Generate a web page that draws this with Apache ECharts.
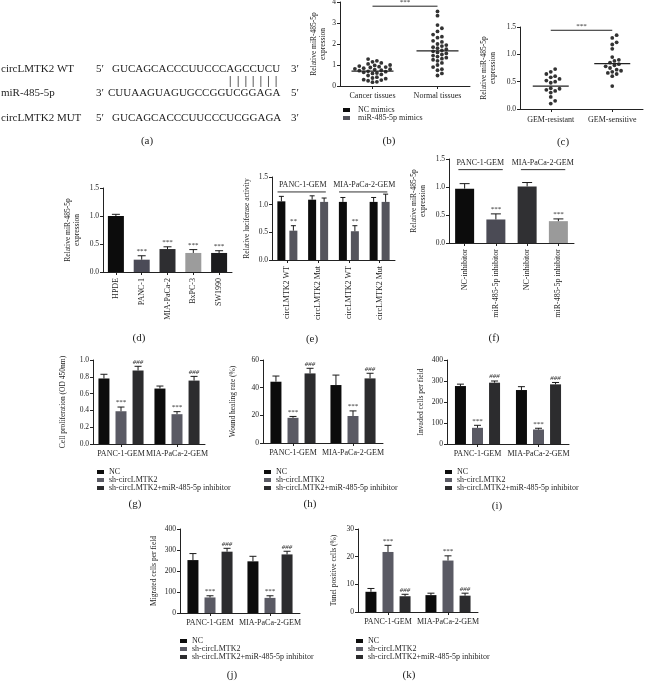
<!DOCTYPE html>
<html><head><meta charset="utf-8">
<script src="https://cdn.jsdelivr.net/npm/echarts@6/dist/echarts.min.js"></script>
<style>html,body{margin:0;padding:0;background:#fff}#c{width:646px;height:683px}</style>
</head><body><div id="c"></div>
<script>
const FONT = '"Liberation Serif","DejaVu Serif",serif';
const TXT = '#1e1e1e';

// ---------- (a) sequences ----------
const seqLabels = ['circLMTK2 WT', 'miR-485-5p', 'circLMTK2 MUT'];
const seqLeftEnds = ['5\u2032', '3\u2032', '5\u2032'];
const seqs = ['GUCAGCACCCUUCCCAGCCUCU', 'CUUAAGUAGUGCCGGUCGGAGA', 'GUCAGCACCCUUCCCUCGGAGA'];
const seqRightEnds = ['3\u2032', '5\u2032', '3\u2032'];
const pairedFrom = 15, pairedTo = 21; // paired bases in WT (indices)

// ---------- (b) ----------
const catsB = ['Cancer tissues', 'Normal tissues'];
const cancerVals = [1.28,1.2,1.15,1.1,1.05,1.0,0.98,0.95,0.92,0.9,0.88,0.85,0.82,0.8,0.78,0.75,0.73,0.7,0.68,0.65,0.62,0.6,0.55,0.5,0.42,0.38,0.35,0.3,0.28,0.25,0.2,0.18];
const normalVals = [3.55,3.35,2.9,2.75,2.6,2.45,2.35,2.3,2.15,2.1,2.0,1.95,1.9,1.85,1.8,1.75,1.7,1.65,1.6,1.55,1.5,1.45,1.4,1.35,1.3,1.25,1.2,1.1,1.0,0.9,0.8,0.75,0.6,0.5];
const meanB = [0.71, 1.67];
const sigB = 3.8;
const legendB = ['NC mimics', 'miR-485-5p mimics'];

// ---------- (c) ----------
const catsC = ['GEM-resistant', 'GEM-sensitive'];
const resistantVals = [0.73,0.68,0.64,0.6,0.58,0.55,0.52,0.5,0.48,0.38,0.37,0.35,0.33,0.3,0.22,0.15,0.1];
const sensitiveVals = [1.35,1.3,1.22,1.18,1.1,0.95,0.9,0.88,0.85,0.82,0.8,0.78,0.75,0.72,0.7,0.68,0.66,0.64,0.6,0.42];
const meanC = [0.42, 0.83];
const sigC = 1.44;

// ---------- (d) ----------
const catsD = ['HPDE', 'PANC-1', 'MIA-PaCa-2', 'BxPC-3', 'SW1990'];
const valsD = [1.0, 0.22, 0.41, 0.34, 0.34];
const errD = [1.03, 0.29, 0.45, 0.40, 0.38];
const marksD = ['', '***', '***', '***', '***'];

// ---------- (e) ----------
const catsE = ['circLMTK2 WT', 'circLMTK2 Mut', 'circLMTK2 WT', 'circLMTK2 Mut'];
const ncMimicsE = [1.06, 1.09, 1.05, 1.05];
const ncMimicsErrE = [1.15, 1.16, 1.13, 1.13];
const mimicsE = [0.53, 1.05, 0.52, 1.05];
const mimicsErrE = [0.62, 1.12, 0.62, 1.19];
const marksE = ['**', '', '**', ''];
const groupsE = ['PANC-1-GEM', 'MIA-PaCa-2-GEM'];

// ---------- (f) ----------
const catsF = ['NC-inhibitor', 'miR-485-5p inhibitor', 'NC-inhibitor', 'miR-485-5p inhibitor'];
const valsF = [0.97, 0.42, 1.01, 0.39];
const errF = [1.06, 0.52, 1.08, 0.43];
const marksF = ['', '***', '', '***'];

// ---------- (g)-(k) ----------
const groupCats = ['PANC-1-GEM', 'MIA-PaCa-2-GEM'];
const legendNames = ['NC', 'sh-circLMTK2', 'sh-circLMTK2+miR-485-5p inhibitor'];
const groupMarks = ['', '***', '###'];
// (g) cell proliferation
const gNC = [0.78, 0.66], gNCErr = [0.83, 0.69];
const gSh = [0.39, 0.355], gShErr = [0.44, 0.385];
const gInh = [0.875, 0.755], gInhErr = [0.925, 0.805];
// (h) wound healing
const hNC = [44.3, 41.9], hNCErr = [48.4, 49.1];
const hSh = [18.2, 19.5], hShErr = [19.2, 23.2];
const hInh = [50.3, 46.7], hInhErr = [54.0, 50.4];
// (i) invaded
const iNC = [276, 257], iNCErr = [285, 273];
const iSh = [77, 69], iShErr = [89, 75];
const iInh = [292, 284], iInhErr = [300, 293];
// (j) migrated
const jNC = [252, 246], jNCErr = [283, 270];
const jSh = [74, 72], jShErr = [82, 82];
const jInh = [292, 279], jInhErr = [308, 294];
// (k) tunel
const kNC = [7.3, 6.1], kNCErr = [8.5, 6.8];
const kSh = [21.7, 18.6], kShErr = [24.1, 20.3];
const kInh = [5.7, 5.9], kInhErr = [6.4, 6.8];

// ---------- styles ----------
const groupColors = ['#0c0c0c', '#5a5a64', '#2c2c2e'];
const colorsD = ['#0c0c0c', '#4b4b57', '#2e2e31', '#9c9c9c', '#1c1c1e'];
const colorsE = ['#0c0c0c', '#55555d'];
const colorsF = ['#0c0c0c', '#4b4b55', '#303033', '#9a9a9a'];

const grids = [], xAxes = [], yAxes = [], series = [], legends = [], graphics = [];

function fmt1(v) { return v.toFixed(1); }
function fmt0(v) { return String(Math.round(v)); }

function addPanel(c) {
  const i = grids.length;
  grids.push({ left: c.left, top: c.top, width: c.width, height: c.height, containLabel: false, outerBoundsMode: 'none' });
  xAxes.push({
    type: 'category', gridIndex: i, data: c.cats, boundaryGap: true,
    axisLine: { show: true, onZero: false, lineStyle: { color: '#222', width: 1 } },
    axisTick: { show: true, alignWithLabel: true, length: 3, lineStyle: { color: '#222' } },
    axisLabel: { fontFamily: FONT, fontSize: 8, color: TXT, margin: c.xMargin || 5, rotate: c.rotate || 0, interval: 0, hideOverlap: false },
    splitLine: { show: false }
  });
  yAxes.push({
    type: 'value', gridIndex: i, min: 0, max: c.max, interval: c.interval,
    name: c.yName, nameLocation: 'middle', nameRotate: 90, nameGap: c.nameGap,
    nameTextStyle: { fontFamily: FONT, fontSize: 7.5, color: TXT, lineHeight: 9 },
    axisLine: { show: true, lineStyle: { color: '#222', width: 1 } },
    axisTick: { show: true, length: 3, lineStyle: { color: '#222' } },
    axisLabel: { fontFamily: FONT, fontSize: 7.5, color: TXT, margin: 4, formatter: c.fmt, showMinLabel: true, showMaxLabel: true },
    splitLine: { show: false }
  });
  return i;
}

function errorSeries(i, items, nS, barW, gap, cap) {
  series.push({
    type: 'custom', xAxisIndex: i, yAxisIndex: i, silent: true, z: 5,
    data: items.map(d => [d.cat, d.v, d.e, d.s]),
    renderItem: function (params, api) {
      const d = items[params.dataIndex];
      const p = api.coord([api.value(0), api.value(1)]);
      const q = api.coord([api.value(0), api.value(2)]);
      const x = p[0] + (api.value(3) - (nS - 1) / 2) * (barW + gap);
      const ch = [
        { type: 'line', shape: { x1: x, y1: p[1], x2: x, y2: q[1] }, style: { stroke: '#1a1a1a', lineWidth: 1 } },
        { type: 'line', shape: { x1: x - cap / 2, y1: q[1], x2: x + cap / 2, y2: q[1] }, style: { stroke: '#1a1a1a', lineWidth: 1 } }
      ];
      if (d.mark) ch.push({ type: 'text', style: { text: d.mark, x: x, y: q[1] - 1, align: 'center', verticalAlign: 'bottom', fill: TXT, font: (d.mark[0] === '#' ? 'italic ' : '') + '7px ' + FONT } });
      return { type: 'group', children: ch };
    }
  });
}

function swarm(vals, ppu, d) {
  const order = vals.map((v, i) => i).sort((a, b) => vals[a] - vals[b]);
  const pts = [], off = new Array(vals.length).fill(0);
  for (const i of order) {
    const y = vals[i] * ppu;
    let chosen = 0;
    for (let k = 0; k < 80; k++) {
      const m = Math.ceil(k / 2);
      const dx = (k % 2 === 1 ? m : -m) * d * 0.55;
      let ok = true;
      for (const p of pts) { if ((p[0] - dx) ** 2 + (p[1] - y) ** 2 < d * d) { ok = false; break; } }
      if (ok) { chosen = dx; break; }
    }
    pts.push([chosen, y]); off[i] = chosen;
  }
  return off;
}

function scatterPanel(i, groups, ppu, means, halfW, sig) {
  groups.forEach((vals, c) => {
    const off = swarm(vals, ppu, 4.0);
    series.push({
      type: 'scatter', xAxisIndex: i, yAxisIndex: i, silent: true, symbol: 'circle', symbolSize: 3.8,
      itemStyle: { color: '#000' },
      data: vals.map((v, k) => ({ value: [c, v], symbolOffset: [off[k], 0] }))
    });
  });
  series.push({
    type: 'custom', xAxisIndex: i, yAxisIndex: i, silent: true, z: 4,
    data: means.map((m, c) => [c, m]),
    renderItem: function (params, api) {
      const p = api.coord([api.value(0), api.value(1)]);
      return { type: 'line', shape: { x1: p[0] - halfW, y1: p[1], x2: p[0] + halfW, y2: p[1] }, style: { stroke: '#222', lineWidth: 1.3 } };
    }
  });
  series.push({
    type: 'custom', xAxisIndex: i, yAxisIndex: i, silent: true, z: 4,
    data: [[0, sig]],
    renderItem: function (params, api) {
      const a = api.coord([0, api.value(1)]), b = api.coord([1, api.value(1)]);
      return { type: 'group', children: [
        { type: 'line', shape: { x1: a[0], y1: a[1], x2: b[0], y2: b[1] }, style: { stroke: '#222', lineWidth: 1 } },
        { type: 'text', style: { text: '***', x: (a[0] + b[0]) / 2, y: a[1] - 1, align: 'center', verticalAlign: 'bottom', fill: TXT, font: '7px ' + FONT } }
      ] };
    }
  });
}

function groupLabelSeries(i, labels, level, ext) {
  series.push({
    type: 'custom', xAxisIndex: i, yAxisIndex: i, silent: true, z: 4,
    data: labels.map((l, g) => [g * 2, level]),
    renderItem: function (params, api) {
      const g = params.dataIndex;
      const a = api.coord([g * 2, api.value(1)]), b = api.coord([g * 2 + 1, api.value(1)]);
      const w = api.size([1, 0])[0];
      return { type: 'group', children: [
        { type: 'line', shape: { x1: a[0] - w * ext[0], y1: a[1], x2: b[0] + w * ext[1], y2: a[1] }, style: { stroke: '#333', lineWidth: 1 } },
        { type: 'text', style: { text: labels[g], x: (a[0] + b[0]) / 2, y: a[1] - 3, align: 'center', verticalAlign: 'bottom', fill: TXT, font: '8px ' + FONT } }
      ] };
    }
  });
}

// ----- (b) -----
const iB = addPanel({ left: 340, top: 2, width: 130, height: 84, cats: catsB, max: 4, interval: 1, fmt: fmt0, yName: 'Relative miR-485-5p\nexpression', nameGap: 12, xMargin: 6 });
scatterPanel(iB, [cancerVals, normalVals], 84 / 4, meanB, 21, sigB);

// ----- (c) -----
const iC = addPanel({ left: 520, top: 27, width: 123, height: 82, cats: catsC, max: 1.5, interval: 0.5, fmt: fmt1, yName: 'Relative miR-485-5p\nexpression', nameGap: 22, xMargin: 7 });
scatterPanel(iC, [resistantVals, sensitiveVals], 82 / 1.5, meanC, 18, sigC);

// ----- (d) -----
const iD = addPanel({ left: 103, top: 188, width: 129, height: 84, cats: catsD, max: 1.5, interval: 0.5, fmt: fmt1, yName: 'Relative miR-485-5p\nexpression', nameGap: 21, rotate: 90, xMargin: 6 });
series.push({ type: 'bar', xAxisIndex: iD, yAxisIndex: iD, silent: true, barWidth: 16,
  data: valsD.map((v, k) => ({ value: v, itemStyle: { color: colorsD[k] } })) });
errorSeries(iD, valsD.map((v, k) => ({ cat: k, v: v, e: errD[k], s: 0, mark: marksD[k] })), 1, 16, 0, 8);

// ----- (e) -----
const iE = addPanel({ left: 272, top: 177, width: 123, height: 83, cats: catsE, max: 1.5, interval: 0.5, fmt: fmt1, yName: 'Relative luciferase activity', nameGap: 20, rotate: 90, xMargin: 6 });
series.push({ type: 'bar', name: legendB[0], xAxisIndex: iE, yAxisIndex: iE, silent: true, barWidth: 8, barGap: '50%', itemStyle: { color: colorsE[0] }, data: ncMimicsE });
series.push({ type: 'bar', name: legendB[1], xAxisIndex: iE, yAxisIndex: iE, silent: true, barWidth: 8, barGap: '50%', itemStyle: { color: colorsE[1] }, data: mimicsE });
errorSeries(iE, ncMimicsE.map((v, k) => ({ cat: k, v: v, e: ncMimicsErrE[k], s: 0, mark: '' }))
  .concat(mimicsE.map((v, k) => ({ cat: k, v: v, e: mimicsErrE[k], s: 1, mark: marksE[k] }))), 2, 8, 4, 5);
groupLabelSeries(iE, groupsE, 1.23, [0.32, 0.25]);

// ----- (f) -----
const iF = addPanel({ left: 449, top: 159, width: 125, height: 84, cats: catsF, max: 1.5, interval: 0.5, fmt: fmt1, yName: 'Relative miR-485-5p\nexpression', nameGap: 21, rotate: 90, xMargin: 6 });
series.push({ type: 'bar', xAxisIndex: iF, yAxisIndex: iF, silent: true, barWidth: 19,
  data: valsF.map((v, k) => ({ value: v, itemStyle: { color: colorsF[k] } })) });
errorSeries(iF, valsF.map((v, k) => ({ cat: k, v: v, e: errF[k], s: 0, mark: marksF[k] })), 1, 19, 0, 10);
groupLabelSeries(iF, groupsE, 1.31, [0.2, 0.22]);

// ----- grouped panels -----
function groupPanel(box, vals, errs, legendPos) {
  const i = addPanel(Object.assign({ cats: groupCats, xMargin: 6 }, box));
  vals.forEach((arr, s) => series.push({ type: 'bar', name: legendNames[s], xAxisIndex: i, yAxisIndex: i, silent: true,
    barWidth: 11, barGap: '55%', itemStyle: { color: groupColors[s] }, data: arr }));
  const items = [];
  vals.forEach((arr, s) => arr.forEach((v, c) => items.push({ cat: c, v: v, e: errs[s][c], s: s, mark: groupMarks[s] })));
  errorSeries(i, items, 3, 11, 11 * 0.55, 7);
  legends.push({ data: legendNames, left: legendPos[0], top: legendPos[1], orient: 'vertical', icon: 'rect', itemWidth: 7, itemHeight: 4, itemGap: 0, padding: 0, selectedMode: false,
    itemStyle: { borderWidth: 0 }, textStyle: { fontFamily: FONT, fontSize: 8, color: TXT, lineHeight: 7 } });
}
groupPanel({ left: 93, top: 360, width: 112, height: 84, max: 1.0, interval: 0.2, fmt: fmt1, yName: 'Cell proliferation (OD 450nm)', nameGap: 25 },
  [gNC, gSh, gInh], [gNCErr, gShErr, gInhErr], [97, 468]);
groupPanel({ left: 263, top: 360, width: 120, height: 83, max: 60, interval: 20, fmt: fmt0, yName: 'Wound healing rate (%)', nameGap: 25 },
  [hNC, hSh, hInh], [hNCErr, hShErr, hInhErr], [264, 468]);
groupPanel({ left: 447, top: 360, width: 122, height: 84, max: 400, interval: 100, fmt: fmt0, yName: 'Invaded cells per field', nameGap: 21 },
  [iNC, iSh, iInh], [iNCErr, iShErr, iInhErr], [445, 468]);
groupPanel({ left: 180, top: 529, width: 120, height: 84, max: 400, interval: 100, fmt: fmt0, yName: 'Migrated cells per field', nameGap: 21 },
  [jNC, jSh, jInh], [jNCErr, jShErr, jInhErr], [180, 637]);
groupPanel({ left: 358, top: 529, width: 120, height: 83, max: 30, interval: 10, fmt: fmt0, yName: 'Tunel positive cells (%)', nameGap: 19 },
  [kNC, kSh, kInh], [kNCErr, kShErr, kInhErr], [356, 637]);

// legend under (b)
legends.push({ data: legendB, left: 343, top: 106, orient: 'vertical', icon: 'rect', itemWidth: 7, itemHeight: 4, itemGap: 0, padding: 0, selectedMode: false,
  itemStyle: { borderWidth: 0 }, textStyle: { fontFamily: FONT, fontSize: 8, color: TXT, lineHeight: 7, padding: [0, 0, 0, 3] } });

// ----- (a) graphics -----
const ctx = document.createElement('canvas').getContext('2d');
const seqFont = '11px ' + FONT;
ctx.font = seqFont;
const rowsY = [69, 93, 118];
const seqX = [112, 108, 112];
seqs.forEach((s, r) => {
  graphics.push({ type: 'text', x: 1, y: rowsY[r], style: { text: seqLabels[r], font: seqFont, fill: TXT, align: 'left', verticalAlign: 'middle' } });
  graphics.push({ type: 'text', x: 96, y: rowsY[r], style: { text: seqLeftEnds[r], font: seqFont, fill: TXT, align: 'left', verticalAlign: 'middle' } });
  graphics.push({ type: 'text', x: seqX[r], y: rowsY[r], style: { text: s, font: seqFont, fill: TXT, align: 'left', verticalAlign: 'middle' } });
  graphics.push({ type: 'text', x: 291, y: rowsY[r], style: { text: seqRightEnds[r], font: seqFont, fill: TXT, align: 'left', verticalAlign: 'middle' } });
});
for (let k = pairedFrom; k <= pairedTo; k++) {
  const x = seqX[0] + ctx.measureText(seqs[0].slice(0, k)).width + ctx.measureText(seqs[0][k]).width / 2;
  graphics.push({ type: 'line', shape: { x1: x, y1: 76, x2: x, y2: 87 }, style: { stroke: '#333', lineWidth: 0.8 } });
}
const panelLabels = [['(a)', 147, 141], ['(b)', 389, 141], ['(c)', 563, 142], ['(d)', 139, 338], ['(e)', 312, 339], ['(f)', 494, 338],
  ['(g)', 135, 504], ['(h)', 310, 504], ['(i)', 497, 506], ['(j)', 232, 675], ['(k)', 409, 675]];
panelLabels.forEach(p => graphics.push({ type: 'text', x: p[1], y: p[2], style: { text: p[0], font: '11px ' + FONT, fill: TXT, align: 'center', verticalAlign: 'middle' } }));

const chart = echarts.init(document.getElementById('c'), null, { renderer: 'canvas', width: 646, height: 683 });
chart.setOption({
  animation: false, backgroundColor: '#fff',
  grid: grids, xAxis: xAxes, yAxis: yAxes, series: series, legend: legends,
  graphic: { elements: graphics }
});
</script></body></html>
